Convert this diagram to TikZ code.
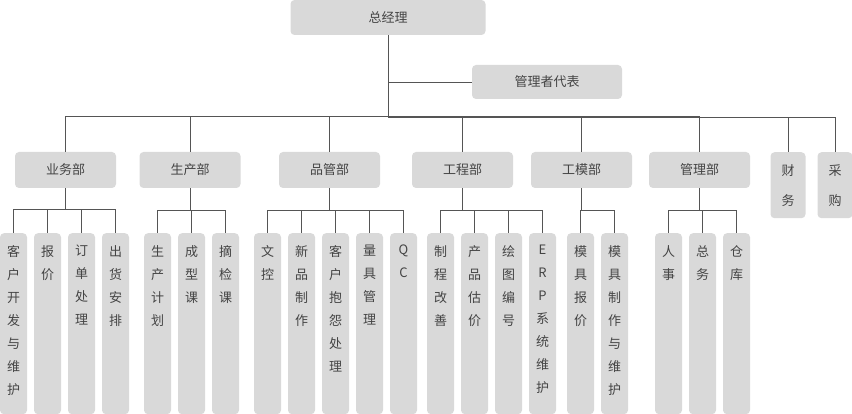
\documentclass[tikz,border=0pt]{standalone}
\usepackage{fontspec}
\newfontfamily\cjk{Noto Sans CJK SC}
\definecolor{boxgray}{HTML}{D9D9D9}
\definecolor{linegray}{HTML}{555555}
\definecolor{txt}{HTML}{444444}
\tikzset{
  box/.style={fill=boxgray,rounded corners=4pt,inner sep=0pt,text=txt,font=\cjk\fontsize{13}{13}\selectfont},
  dept/.style={box,minimum width=101pt,minimum height=36pt},
  leafbox/.style={box,minimum width=27pt,minimum height=181pt,anchor=north},
  leaftext/.style={anchor=north,inner sep=0pt,align=center,text=txt,font=\cjk\fontsize{13}{23}\selectfont},
  conn/.style={draw=linegray,line width=0.9pt},
}
\newcommand{\leaf}[3]{\node[leafbox] (#1) at (#2,233) {};\node[leaftext] (#1t) at (#2,245) {#3};}
\begin{document}
\begin{tikzpicture}[x=1pt,y=-1pt]
\useasboundingbox (0,0) rectangle (852,414);
\node[box,minimum width=195pt,minimum height=35pt] (gm) at (388,17.5) {总经理};
\node[box,minimum width=150pt,minimum height=34pt] (mr) at (547,82) {管理者代表};
\coordinate (bus) at (388,117);
\coordinate (mb) at (388,82);
\draw[conn] (gm.south) -- (bus);
\draw[conn] (mb) -- (mr.west);

\node[dept] (yw) at (65.5,170) {业务部};
\node[dept] (sc) at (190,170) {生产部};
\node[dept] (pg) at (329.5,170) {品管部};
\node[dept] (gc) at (462.5,170) {工程部};
\node[dept] (gm2) at (581.5,170) {工模部};
\node[dept] (gl) at (699.5,170) {管理部};
\node[box,minimum width=35pt,minimum height=66pt,anchor=north,align=center,font=\cjk\fontsize{13}{30}\selectfont] (cw) at (788,152) {财\\务};
\node[box,minimum width=35pt,minimum height=66pt,anchor=north,align=center,font=\cjk\fontsize{13}{30}\selectfont] (cg) at (835,152) {采\\购};
\foreach \d in {yw,sc,pg,gc,gm2,gl,cw,cg}{\draw[conn] (\d.north) -- ++(0,-35) -| (bus);}

\leaf{a1}{13.5}{客\\户\\开\\发\\与\\维\\护}
\leaf{a2}{47.5}{报\\价}
\leaf{a3}{81.5}{订\\单\\处\\理}
\leaf{a4}{115.5}{出\\货\\安\\排}
\foreach \c in {a1,a2,a3,a4}{\draw[conn] (yw.south) -- ++(0,21) -| (\c.north);}

\leaf{b1}{157.5}{生\\产\\计\\划}
\leaf{b2}{191.5}{成\\型\\课}
\leaf{b3}{225.5}{摘\\检\\课}
\foreach \c in {b1,b2,b3}{\draw[conn] (sc.south) -- ++(0,22) -| (\c.north);}

\leaf{c1}{267.5}{文\\控}
\leaf{c2}{301.5}{新\\品\\制\\作}
\leaf{c3}{335.5}{客\\户\\抱\\怨\\处\\理}
\leaf{c4}{369.5}{量\\具\\管\\理}
\leaf{c5}{403.5}{Q\\C}
\foreach \c in {c1,c2,c3,c4,c5}{\draw[conn] (pg.south) -- ++(0,22) -| (\c.north);}

\leaf{d1}{440.5}{制\\程\\改\\善}
\leaf{d2}{474.5}{产\\品\\估\\价}
\leaf{d3}{508.5}{绘\\图\\编\\号}
\leaf{d4}{542.5}{E\\R\\P\\系\\统\\维\\护}
\foreach \c in {d1,d2,d3,d4}{\draw[conn] (gc.south) -- ++(0,22) -| (\c.north);}

\leaf{e1}{580.5}{模\\具\\报\\价}
\leaf{e2}{614.5}{模\\具\\制\\作\\与\\维\\护}
\foreach \c in {e1,e2}{\draw[conn] (gm2.south) -- ++(0,22) -| (\c.north);}

\leaf{f1}{668.5}{人\\事}
\leaf{f2}{702.5}{总\\务}
\leaf{f3}{736.5}{仓\\库}
\foreach \c in {f1,f2,f3}{\draw[conn] (gl.south) -- ++(0,22) -| (\c.north);}
\end{tikzpicture}
\end{document}
